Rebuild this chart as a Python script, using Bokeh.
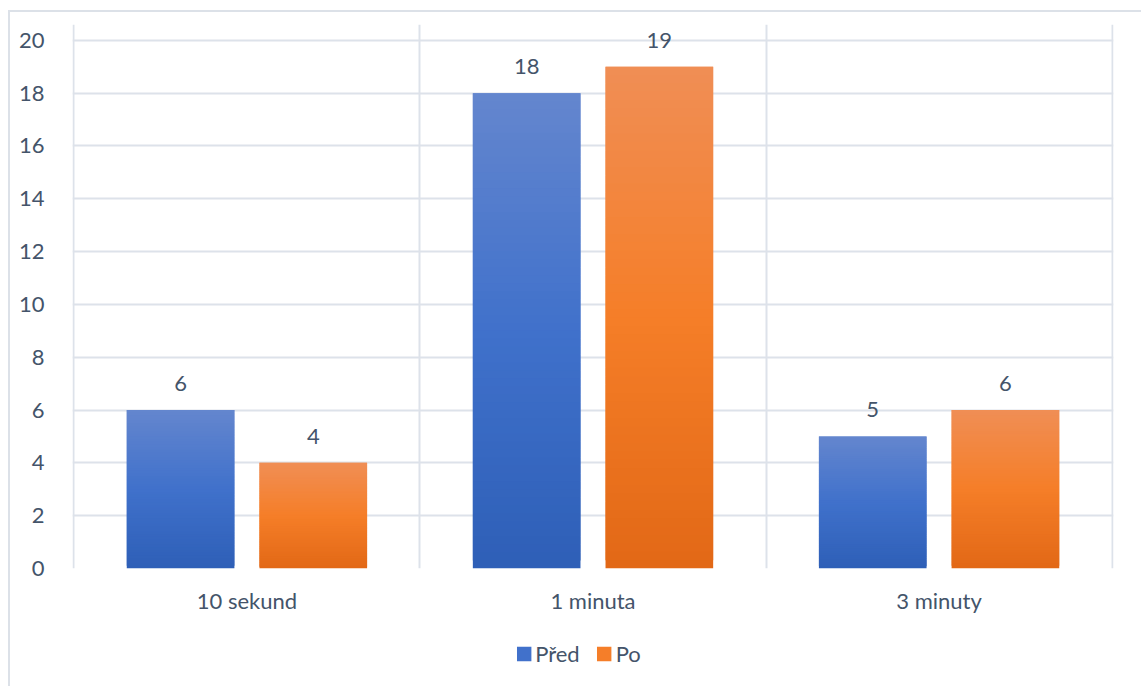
from bokeh.plotting import figure
from bokeh.layouts import column
from bokeh.models import ColumnDataSource, FixedTicker, Legend, LegendItem
from bokeh.core.properties import value
from bokeh.embed import file_html
from bokeh.resources import INLINE

# Data
categories = ["10 sekund", "1 minuta", "3 minuty"]
series_names = ["Před", "Po"]
pred_values = [6, 18, 5]
po_values = [4, 19, 6]
y_ticks = [0, 2, 4, 6, 8, 10, 12, 14, 16, 18, 20]

FONT = "Lato"
FONT_SIZE = "22px"
TEXT_COLOR = "#44546A"
GRID_COLOR = "#DDE2EA"
FRAME_COLOR = "#DCE1E8"

# vertical gradient stops (top, middle, bottom) for each series
blue_stops = [(100, 134, 206), (64, 113, 203), (46, 95, 183)]
orange_stops = [(240, 142, 85), (245, 126, 40), (226, 104, 22)]

BAR_WIDTH = 0.311
OFFSET = 0.1917
N_STRIPS = 60


def grad_color(stops, t):
    # t = 0 at the top of a bar, 1 at its base
    if t <= 0.5:
        a, b, f = stops[0], stops[1], t / 0.5
    else:
        a, b, f = stops[1], stops[2], (t - 0.5) / 0.5
    r, g, bl = (round(a[i] + (b[i] - a[i]) * f) for i in range(3))
    return "#%02x%02x%02x" % (r, g, bl)


def strips(values, offset, stops):
    # each bar is a stack of thin overlapping strips forming a vertical gradient
    data = dict(left=[], right=[], bottom=[], top=[], color=[])
    for i, v in enumerate(values):
        cx = i + 0.5 + offset
        for k in range(N_STRIPS):
            data["left"].append(cx - BAR_WIDTH / 2)
            data["right"].append(cx + BAR_WIDTH / 2)
            data["bottom"].append(v * k / N_STRIPS)
            data["top"].append(min(v, v * (k + 2) / N_STRIPS))
            data["color"].append(grad_color(stops, 1 - (k + 0.5) / N_STRIPS))
    return ColumnDataSource(data)


src_pred = strips(pred_values, -OFFSET, blue_stops)
src_po = strips(po_values, OFFSET, orange_stops)

# the y range runs a little past 20 so value labels above the tallest bar stay visible
p = figure(
    frame_width=1041, frame_height=544,
    x_range=(-0.004, 3.004), y_range=(0, 20.6),
    output_backend="svg", toolbar_location=None,
    min_border_left=62, min_border_right=28,
    min_border_top=12, min_border_bottom=52,
)
p.outline_line_color = None
p.background_fill_color = "white"
p.border_fill_color = "white"

p.quad(left="left", right="right", bottom="bottom", top="top",
       fill_color="color", line_color=None, source=src_pred)
p.quad(left="left", right="right", bottom="bottom", top="top",
       fill_color="color", line_color=None, source=src_po)

# value labels above bars
label_src = ColumnDataSource(dict(
    x=[i + 0.5 - OFFSET for i in range(3)] + [i + 0.5 + OFFSET for i in range(3)],
    y=pred_values + po_values,
    t=[str(v) for v in pred_values + po_values],
))
p.text(x="x", y="y", text="t", source=label_src, text_align="center",
       text_baseline="bottom", y_offset=-19, text_font=value(FONT),
       text_font_size=FONT_SIZE, text_color=TEXT_COLOR)

# axes
p.yaxis.ticker = FixedTicker(ticks=y_ticks)
p.xaxis.ticker = FixedTicker(ticks=[0.5, 1.5, 2.5])
p.xaxis.major_label_overrides = {0.5: categories[0], 1.5: categories[1], 2.5: categories[2]}
for ax in (p.xaxis[0], p.yaxis[0]):
    ax.axis_line_color = None
    ax.major_tick_line_color = None
    ax.minor_tick_line_color = None
    ax.major_label_text_font = FONT
    ax.major_label_text_font_size = FONT_SIZE
    ax.major_label_text_color = TEXT_COLOR
p.yaxis.major_label_standoff = 22
p.xaxis.major_label_standoff = 12

p.ygrid.grid_line_color = GRID_COLOR
p.ygrid.grid_line_width = 2
p.xgrid.ticker = FixedTicker(ticks=[0, 1, 2, 3])
p.xgrid.grid_line_color = GRID_COLOR
p.xgrid.grid_line_width = 2
# category separators stop at the top gridline
p.xgrid.bounds = (0, 20)

# legend strip under the chart; its glyphs share the bars' data but sit outside its view
q = figure(
    width=1131, height=66,
    x_range=(100, 101), y_range=(100, 101),
    x_axis_location=None, y_axis_location=None,
    output_backend="svg", toolbar_location=None,
    min_border_left=0, min_border_right=58, min_border_top=0, min_border_bottom=0,
)
q.grid.visible = False
q.outline_line_color = None
q_pred = q.quad(left="left", right="right", bottom="bottom", top="top",
                fill_color="color", line_color=None, source=src_pred)
q_po = q.quad(left="left", right="right", bottom="bottom", top="top",
              fill_color="color", line_color=None, source=src_po)

legend = Legend(
    items=[LegendItem(label=series_names[0], renderers=[q_pred], index=N_STRIPS // 2),
           LegendItem(label=series_names[1], renderers=[q_po], index=N_STRIPS // 2)],
    orientation="horizontal", location="center",
    border_line_color=None, background_fill_alpha=0,
    glyph_width=18, glyph_height=18, label_height=20, label_standoff=3, spacing=15,
    label_text_font=FONT, label_text_font_size=FONT_SIZE, label_text_color=TEXT_COLOR,
    margin=0, padding=0,
)
q.add_layout(legend, "center")

layout = column(
    p, q, spacing=0, margin=(10, 0, 0, 8),
    styles={"border-left": "2px solid " + FRAME_COLOR, "border-top": "2px solid " + FRAME_COLOR},
)

open("out.html", "w").write(file_html(layout, INLINE))
